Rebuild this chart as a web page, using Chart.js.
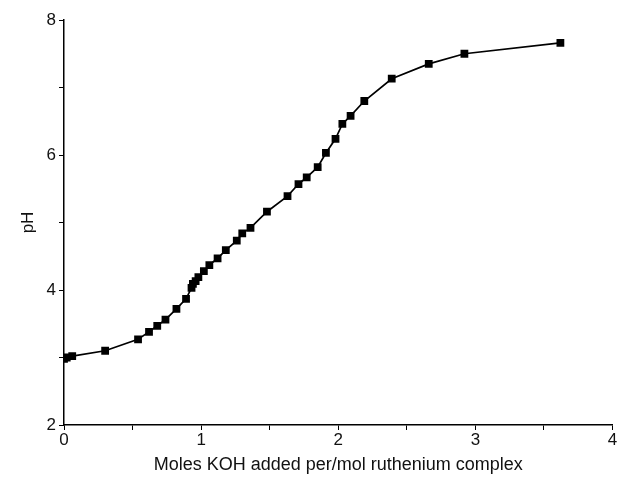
<!DOCTYPE html>
<html>
<head>
<meta charset="utf-8">
<script src="https://cdn.jsdelivr.net/npm/chart.js@4"></script>
<style>
  html, body { margin: 0; padding: 0; background: #fff; }
  #wrap { width: 618px; height: 478px; }
</style>
</head>
<body>
<div id="wrap"><canvas id="titration"></canvas></div>
<script>
// moles KOH added per mol of complex
const molesKOH = [0, 0.02, 0.06, 0.30, 0.54, 0.62, 0.68, 0.74, 0.82, 0.89,
                  0.93, 0.94, 0.96, 0.98, 1.02, 1.06, 1.12, 1.18, 1.26, 1.30,
                  1.36, 1.48, 1.63, 1.71, 1.77, 1.85, 1.91, 1.98, 2.03, 2.09,
                  2.19, 2.39, 2.66, 2.92, 3.62];
// measured pH
const phValues = [2.98, 3.00, 3.02, 3.10, 3.27, 3.38, 3.47, 3.56, 3.72, 3.87,
                  4.03, 4.09, 4.13, 4.19, 4.28, 4.37, 4.47, 4.59, 4.73, 4.84,
                  4.92, 5.16, 5.39, 5.57, 5.67, 5.82, 6.03, 6.24, 6.46, 6.58,
                  6.80, 7.13, 7.35, 7.50, 7.66];
const xLabels = ['0', '1', '2', '3', '4'];
const yLabels = ['2', '4', '6', '8'];

const points = molesKOH.map((m, i) => ({ x: m, y: phValues[i] }));
const tickFont = { family: 'Liberation Sans, Arial, sans-serif', size: 17 };

new Chart(document.getElementById('titration').getContext('2d'), {
    type: 'line',
    data: {
        datasets: [{
            data: points,
            borderColor: '#000',
            borderWidth: 1.7,
            backgroundColor: '#000',
            pointStyle: 'rect',
            pointRadius: 5.5,
            pointBorderWidth: 0,
            tension: 0
        }]
    },
    options: {
        responsive: true,
        maintainAspectRatio: false,
        animation: false,
        layout: { padding: { left: 18, right: 4, top: 20, bottom: 2 } },
        plugins: { legend: { display: false }, tooltip: { enabled: false } },
        scales: {
            x: {
                type: 'linear',
                min: 0, max: 4,
                ticks: {
                    stepSize: 0.5,
                    color: '#111',
                    font: tickFont,
                    padding: 0,
                    maxRotation: 0,
                    callback: v => Number.isInteger(v) ? xLabels[v] : ''
                },
                grid: { drawOnChartArea: false, color: '#000', tickLength: 5, lineWidth: 1 },
                border: { color: '#000', width: 1.5 },
                title: {
                    display: true,
                    text: 'Moles KOH added per/mol ruthenium complex',
                    color: '#111',
                    font: { family: 'Liberation Sans, Arial, sans-serif', size: 18 },
                    padding: { top: 5, bottom: 0 }
                },
                afterFit: s => { s.height = 51; }
            },
            y: {
                type: 'linear',
                min: 2, max: 8,
                ticks: {
                    stepSize: 1,
                    color: '#111',
                    font: tickFont,
                    padding: 3,
                    callback: v => v % 2 === 0 ? yLabels[(v - 2) / 2] : ''
                },
                grid: { drawOnChartArea: false, color: '#000', tickLength: 5, lineWidth: 1 },
                border: { color: '#000', width: 1.5 },
                title: {
                    display: true,
                    text: 'pH',
                    color: '#111',
                    font: { family: 'Liberation Sans, Arial, sans-serif', size: 17 },
                    padding: { top: 0, bottom: 4 }
                },
                afterFit: s => { s.width = 46; }
            }
        }
    }
});
</script>
</body>
</html>
